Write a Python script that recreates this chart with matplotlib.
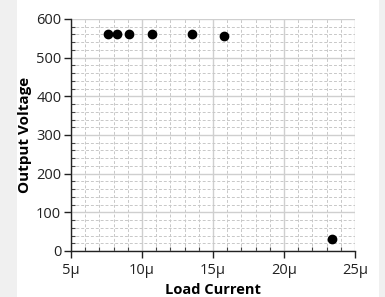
import numpy as np
import matplotlib.pyplot as plt
from matplotlib.ticker import MultipleLocator, FuncFormatter
from matplotlib.patches import Rectangle

# Load current in microamps, output voltage in volts
load_current = [7.6, 8.25, 9.1, 10.7, 13.55, 15.8, 23.4]
output_voltage = [560, 560, 560, 560, 560, 557, 32]

x_ticks = [5, 10, 15, 20, 25]
y_ticks = [0, 100, 200, 300, 400, 500, 600]

plt.rcParams['font.family'] = ['Open Sans', 'DejaVu Sans']

fig = plt.figure(figsize=(3.85, 2.97), dpi=100, facecolor='#f0f0f0')
# white page area behind the axes
fig.patches.append(Rectangle((17/385, 0), (379-17)/385, 1, transform=fig.transFigure,
                             facecolor='white', edgecolor='none', zorder=-10))
ax = fig.add_axes([71/385, 1-251/297, (355-71)/385, (251-19)/297])
ax.set_zorder(5)
ax.set_facecolor('white')

ax.scatter(load_current, output_voltage, s=36, color='black', zorder=3, clip_on=False)

ax.set_xlim(5, 25)
ax.set_ylim(0, 600)
ax.set_xticks(x_ticks)
ax.set_yticks(y_ticks)
ax.xaxis.set_minor_locator(MultipleLocator(1))
ax.yaxis.set_minor_locator(MultipleLocator(20))
ax.xaxis.set_major_formatter(FuncFormatter(lambda v, p: f"{int(v)}µ"))

ax.grid(which='major', color='#cfcfcf', linewidth=1.0, linestyle='-')
ax.grid(which='minor', color='#c8c8c8', linewidth=0.7, linestyle=(0, (3, 2)))
ax.set_axisbelow(True)

for s in ['top', 'right']:
    ax.spines[s].set_visible(False)
for s in ['left', 'bottom']:
    ax.spines[s].set_color('#222222')
    ax.spines[s].set_linewidth(1.0)

ax.tick_params(which='major', direction='out', length=5, width=1, colors='#222222',
               labelsize=10.5, pad=2)
ax.tick_params(axis='x', which='major', pad=4)
ax.tick_params(which='minor', direction='in', length=3, width=0.8, colors='#444444')

ax.set_xlabel('Load Current', fontsize=10.5, fontweight='bold', labelpad=3)
ax.set_ylabel('Output Voltage', fontsize=11, fontweight='bold', labelpad=3)

fig.savefig('out.png', dpi=100, facecolor=fig.get_facecolor())
